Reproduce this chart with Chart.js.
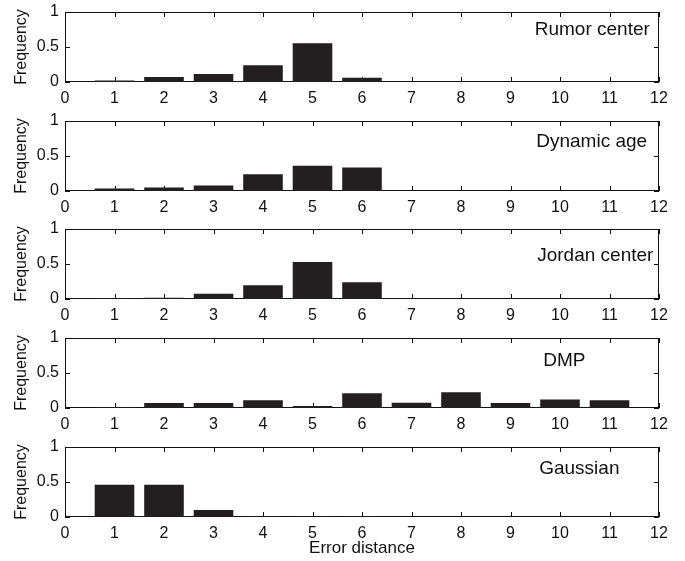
<!DOCTYPE html>
<html>
<head>
<meta charset="utf-8">
<script src="https://cdn.jsdelivr.net/npm/chart.js@4.4.1/dist/chart.umd.min.js"></script>
<style>
body { margin: 0; background: #fff; }
canvas { position: absolute; left: 0; }
</style>
</head>
<body>
<script>
// error distance categories
var distances = [1, 2, 3, 4, 5, 6, 7, 8, 9, 10, 11];
// frequencies
var rumorCenter = [0.02, 0.07, 0.115, 0.24, 0.555, 0.06, 0, 0, 0, 0, 0];
var dynamicAge  = [0.035, 0.05, 0.08, 0.24, 0.36, 0.335, 0, 0, 0, 0, 0];
var jordanCenter = [0.008, 0.018, 0.075, 0.195, 0.53, 0.24, 0, 0, 0, 0, 0];
var dmp = [0.008, 0.07, 0.07, 0.11, 0.03, 0.21, 0.075, 0.225, 0.07, 0.12, 0.11];
var gaussian = [0.46, 0.46, 0.1, 0.008, 0.008, 0.008, 0, 0, 0, 0, 0];
var methodNames = ['Rumor center', 'Dynamic age', 'Jordan center', 'DMP', 'Gaussian'];
var xTicks = [0, 1, 2, 3, 4, 5, 6, 7, 8, 9, 10, 11, 12];
var yTicks = [0, 0.5, 1];

var allSeries = [rumorCenter, dynamicAge, jordanCenter, dmp, gaussian];
// where each panel's name sits (data units, left edge / middle)
var namePos = [[9.49, 0.74], [9.52, 0.71], [9.54, 0.62], [9.66, 0.68], [9.58, 0.69]];
var panelTops = [12, 121, 229, 338, 447];
var AREA_H = 70, PAD_T = 20;

var FONT = '"Liberation Sans", Arial, Helvetica, sans-serif';

// matlab-like box with inward ticks (under the bars), plus the panel name on top
var framePlugin = {
  id: 'frame',
  beforeDatasetsDraw: function(chart) {
    var a = chart.chartArea, xs = chart.scales.x, ys = chart.scales.y, c = chart.ctx;
    c.save();
    c.strokeStyle = '#111';
    c.lineWidth = 1;
    c.strokeRect(Math.round(a.left) + 0.5, Math.round(a.top) + 0.5,
      Math.round(a.right - a.left) - 1, Math.round(a.bottom - a.top) - 1);
    c.beginPath();
    xTicks.forEach(function(v) {
      var px = Math.round(xs.getPixelForValue(v)) + 0.5;
      c.moveTo(px, a.bottom); c.lineTo(px, a.bottom - 5);
      c.moveTo(px, a.top); c.lineTo(px, a.top + 5);
    });
    yTicks.forEach(function(v) {
      var py = Math.round(ys.getPixelForValue(v)) + 0.5;
      c.moveTo(a.left, py); c.lineTo(a.left + 5, py);
      c.moveTo(a.right, py); c.lineTo(a.right - 5, py);
    });
    c.stroke();
    c.restore();
  },
  afterDatasetsDraw: function(chart, args, opts) {
    var xs = chart.scales.x, ys = chart.scales.y, c = chart.ctx;
    c.save();
    c.fillStyle = '#111';
    c.font = '19px ' + FONT;
    c.textBaseline = 'middle';
    c.textAlign = 'left';
    c.fillText(opts.text, xs.getPixelForValue(opts.tx), ys.getPixelForValue(opts.ty));
    c.restore();
  }
};

function makePanel(i) {
  var last = i === allSeries.length - 1;
  var axisH = last ? 44 : 26;
  var h = PAD_T + AREA_H + axisH;
  var cv = document.createElement('canvas');
  cv.width = 685; cv.height = h;
  cv.style.width = '685px'; cv.style.height = h + 'px';
  cv.style.top = (panelTops[i] - PAD_T) + 'px';
  document.body.appendChild(cv);

  var pts = distances.map(function(d, k) { return { x: d, y: allSeries[i][k] }; });

  new Chart(cv.getContext('2d'), {
    type: 'bar',
    data: {
      datasets: [{
        data: pts,
        backgroundColor: '#231f20',
        borderWidth: 0,
        barPercentage: 0.8,
        categoryPercentage: 1
      }]
    },
    options: {
      responsive: false,
      animation: false,
      layout: { padding: { top: PAD_T, right: 26, left: 0, bottom: 0 } },
      plugins: {
        legend: { display: false },
        tooltip: { enabled: false },
        frame: { text: methodNames[i], tx: namePos[i][0], ty: namePos[i][1] }
      },
      scales: {
        x: {
          type: 'linear',
          min: 0, max: 12,
          offset: false,
          grid: { display: false, drawTicks: false },
          border: { display: false },
          ticks: { stepSize: 1, padding: 7, color: '#111', font: { family: FONT, size: 16 }, maxRotation: 0 },
          title: { display: last, text: 'Error distance', color: '#111', padding: { top: 2, bottom: 2 }, font: { family: FONT, size: 17 } },
          afterFit: function(s) { s.height = axisH; }
        },
        y: {
          min: 0, max: 1,
          grid: { display: false, drawTicks: false },
          border: { display: false },
          ticks: {
            stepSize: 0.5, padding: 6, color: '#111', font: { family: FONT, size: 16 },
            callback: function(v) { return String(v); }
          },
          title: { display: true, text: 'Frequency', color: '#111', padding: { top: 12, bottom: 0 }, font: { family: FONT, size: 16 } },
          afterFit: function(s) { s.width = 65; }
        }
      }
    },
    plugins: [framePlugin]
  });
}

for (var i = 0; i < allSeries.length; i++) makePanel(i);
</script>
</body>
</html>
